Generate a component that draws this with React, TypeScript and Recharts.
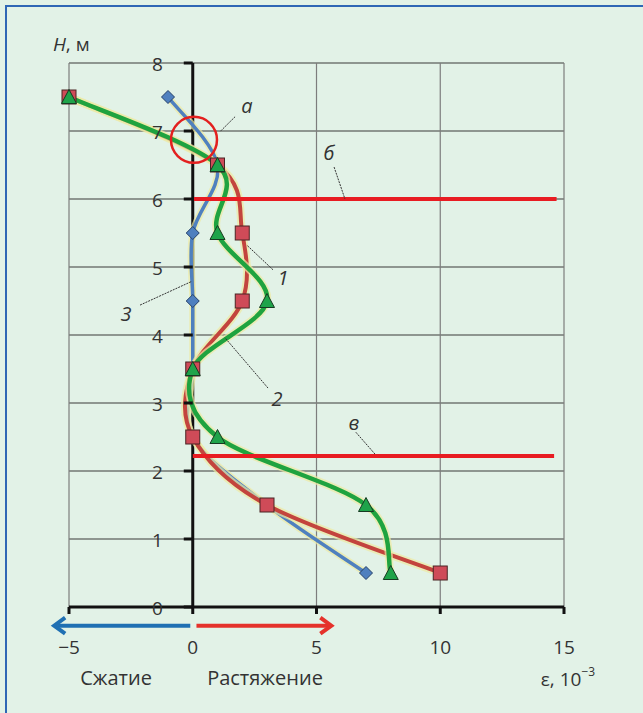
import React from 'react';
import {
  ComposedChart,
  Line,
  XAxis,
  YAxis,
  CartesianGrid,
  ReferenceLine,
  ReferenceDot,
} from 'recharts';

// ---- data ----
const depthH = [7.5, 6.5, 5.5, 4.5, 3.5, 2.5, 1.5, 0.5];
const strain1 = [-5, 1, 2, 2, 0, 0, 3, 10]; // curve 1 (squares)
const strain2 = [-5, 1, 1, 3, 0, 1, 7, 8]; // curve 2 (triangles)
const strain3 = [-1, 1, 0, 0, 0, 0, 3, 7]; // curve 3 (diamonds)

const xTicks = [-5, 0, 5, 10, 15];
const yTicks = [0, 1, 2, 3, 4, 5, 6, 7, 8];
const xGrid = [-5, 5, 10, 15];

// horizontal red lines (б, в)
const redLevels = [
  { h: 6, from: 0.05, to: 14.7 },
  { h: 2.22, from: 0, to: 14.6 },
];

// circle "а"
const circleA = { x: 0.05, y: 6.87 };

// annotation letters and their leader lines
const noteLabels = [
  { t: 'а', x: 2.19, y: 7.38 },
  { t: 'б', x: 5.5, y: 6.68 },
  { t: 'в', x: 6.51, y: 2.71 },
  { t: '1', x: 3.65, y: 4.84 },
  { t: '2', x: 3.4, y: 3.07 },
  { t: '3', x: -2.7, y: 4.32 },
];
const noteLeaders = [
  { x1: 1.71, y1: 7.21, x2: 1.1, y2: 6.99 },
  { x1: 5.71, y1: 6.47, x2: 6.15, y2: 6.0 },
  { x1: 6.59, y1: 2.57, x2: 7.36, y2: 2.25 },
  { x1: 3.24, y1: 4.96, x2: 2.19, y2: 5.32 },
  { x1: 3.04, y1: 3.22, x2: 1.3, y2: 3.96 },
  { x1: -2.13, y1: 4.44, x2: -0.03, y2: 4.79 },
];

// direction arrows under the axis
const arrowLevel = -0.275;
const compressionArrow = { from: -0.1, to: -5.6 };
const tensionArrow = { from: 0.15, to: 5.6 };

// captions under the axis
const captions = [
  { t: 'Сжатие', x: -3.1, y: -1.03 },
  { t: 'Растяжение', x: 2.92, y: -1.03 },
];
const unitCaption = { x: 15.16, y: -1.06 };
const yTitle = { x: -5.65, y: 8.28 };

const rows = depthH.map((h, i) => ({
  H: h,
  s1: strain1[i],
  s2: strain2[i],
  s3: strain3[i],
}));

// ---- styles ----
const FONT = "'Open Sans', 'Noto Sans', sans-serif";
const TXT = '#333333';
const RED_LINE = '#c3443d';
const GREEN_LINE = '#1fa33f';
const BLUE_LINE = '#4f80bf';
const GLOW = '#eeeaa2';

// Catmull-Rom like smoothing (Excel style)
const smoothCurve: any = (context: any) => {
  let pts: number[][] = [];
  return {
    areaStart() {},
    areaEnd() {},
    lineStart() {
      pts = [];
    },
    point(x: number, y: number) {
      pts.push([+x, +y]);
    },
    lineEnd() {
      const n = pts.length;
      if (!n) return;
      context.moveTo(pts[0][0], pts[0][1]);
      if (n === 1) return;
      for (let i = 0; i < n - 1; i++) {
        const p0 = pts[Math.max(i - 1, 0)];
        const p1 = pts[i];
        const p2 = pts[i + 1];
        const p3 = pts[Math.min(i + 2, n - 1)];
        context.bezierCurveTo(
          p1[0] + (p2[0] - p0[0]) / 6,
          p1[1] + (p2[1] - p0[1]) / 6,
          p2[0] - (p3[0] - p1[0]) / 6,
          p2[1] - (p3[1] - p1[1]) / 6,
          p2[0],
          p2[1]
        );
      }
    },
  };
};

const squareDot = (p: any) => {
  if (p.cx == null || p.cy == null) return <g key={`sq-${p.index}`} />;
  const s = 14;
  return (
    <rect
      key={`sq-${p.index}`}
      x={p.cx - s / 2}
      y={p.cy - s / 2}
      width={s}
      height={s}
      fill="#cf4b58"
      stroke="#4a2424"
      strokeWidth={1}
    />
  );
};

const triangleDot = (p: any) => {
  if (p.cx == null || p.cy == null) return <g key={`tr-${p.index}`} />;
  const w = 15;
  const h = 13;
  return (
    <polygon
      key={`tr-${p.index}`}
      points={`${p.cx},${p.cy - h / 2 - 1} ${p.cx + w / 2},${p.cy + h / 2} ${p.cx - w / 2},${p.cy + h / 2}`}
      fill="#1fa34a"
      stroke="#173a22"
      strokeWidth={1}
    />
  );
};

const diamondDot = (p: any) => {
  if (p.cx == null || p.cy == null) return <g key={`dm-${p.index}`} />;
  const r = 6.5;
  return (
    <polygon
      key={`dm-${p.index}`}
      points={`${p.cx},${p.cy - r} ${p.cx + r},${p.cy} ${p.cx},${p.cy + r} ${p.cx - r},${p.cy}`}
      fill="#4f80bf"
      stroke="#25406a"
      strokeWidth={1}
    />
  );
};

const arrowShape = (color: string) => (p: any) => {
  const dir = Math.sign(p.x2 - p.x1) || 1;
  const tip = p.x2;
  const y = p.y2;
  return (
    <g>
      <line x1={p.x1} y1={p.y1} x2={tip - dir * 3} y2={y} stroke={color} strokeWidth={4} />
      <polyline
        points={`${tip - dir * 11},${y - 8} ${tip},${y} ${tip - dir * 11},${y + 8}`}
        fill="none"
        stroke={color}
        strokeWidth={4}
        strokeLinejoin="miter"
      />
    </g>
  );
};

const yTickShape = (t: number) => (p: any) => (
  <g>
    <line x1={p.cx - 9} y1={p.cy} x2={p.cx} y2={p.cy} stroke="#111" strokeWidth={3} />
    <text
      x={p.cx - 30}
      y={p.cy + 1}
      textAnchor="end"
      dominantBaseline="central"
      fontSize={19}
      fontFamily={FONT}
      fill={TXT}
    >
      {t}
    </text>
  </g>
);

const textShape = (t: string, opts: any) => (p: any) => (
  <text
    x={p.cx}
    y={p.cy}
    textAnchor={opts.anchor || 'middle'}
    dominantBaseline="central"
    fontSize={opts.size || 18}
    fontStyle={opts.italic ? 'italic' : 'normal'}
    fontFamily={FONT}
    fill={TXT}
  >
    {t}
  </text>
);

const unitShape = (p: any) => (
  <text
    x={p.cx}
    y={p.cy}
    textAnchor="middle"
    dominantBaseline="central"
    fontSize={19}
    fontFamily={FONT}
    fill={TXT}
  >
    ε, 10
    <tspan fontSize={12} dy={-8}>
      −3
    </tspan>
  </text>
);

const yTitleShape = (p: any) => (
  <text x={p.cx} y={p.cy} dominantBaseline="central" fontSize={19} fontFamily={FONT} fill={TXT}>
    <tspan fontStyle="italic">H</tspan>, м
  </text>
);

const fmtX = (v: number) => (v < 0 ? `−${-v}` : `${v}`);

export default function App() {
  return (
    <div
      style={{
        position: 'absolute',
        left: 0,
        top: 0,
        width: 643,
        height: 713,
        background: '#e2f2e7',
        overflow: 'hidden',
      }}
    >
      <div
        style={{
          position: 'absolute',
          left: 5,
          top: 5,
          width: 700,
          height: 800,
          borderLeft: '2px solid #2f67b5',
          borderTop: '2px solid #2f67b5',
        }}
      />
      <div style={{ position: 'absolute', left: 0, top: 0 }}>
        <ComposedChart
          width={643}
          height={713}
          layout="vertical"
          data={rows}
          margin={{ top: 63, right: 79, bottom: 46, left: 69 }}
        >
          <CartesianGrid
            vertical={false}
            horizontalValues={yTicks}
            stroke="#3a3a3a"
            strokeWidth={1.2}
          />
          <CartesianGrid
            horizontal={false}
            verticalValues={xGrid}
            stroke="#7d7d7d"
            strokeWidth={1.2}
          />
          <CartesianGrid horizontal={false} verticalValues={[0]} stroke="#111" strokeWidth={3} />
          <XAxis
            type="number"
            domain={[-5, 15]}
            ticks={xTicks}
            height={60}
            tickSize={7}
            tickMargin={27}
            tickFormatter={fmtX}
            axisLine={{ stroke: '#111', strokeWidth: 3 }}
            tickLine={{ stroke: '#111', strokeWidth: 3 }}
            tick={{ fill: TXT, fontSize: 19, fontFamily: FONT }}
          />
          <YAxis
            type="number"
            dataKey="H"
            domain={[0, 8]}
            ticks={yTicks}
            reversed
            hide
          />

          <Line dataKey="s3" type={smoothCurve} stroke={GLOW} strokeWidth={7} strokeOpacity={0.7} dot={false} activeDot={false} isAnimationActive={false} legendType="none" />
          <Line dataKey="s3" type={smoothCurve} stroke={BLUE_LINE} strokeWidth={3.5} dot={diamondDot} activeDot={false} isAnimationActive={false} />
          <Line dataKey="s1" type={smoothCurve} stroke={GLOW} strokeWidth={8} strokeOpacity={0.7} dot={false} activeDot={false} isAnimationActive={false} legendType="none" />
          <Line dataKey="s1" type={smoothCurve} stroke={RED_LINE} strokeWidth={4} dot={squareDot} activeDot={false} isAnimationActive={false} />
          <Line dataKey="s2" type={smoothCurve} stroke={GLOW} strokeWidth={8} strokeOpacity={0.7} dot={false} activeDot={false} isAnimationActive={false} legendType="none" />
          <Line dataKey="s2" type={smoothCurve} stroke={GREEN_LINE} strokeWidth={4.5} dot={triangleDot} activeDot={false} isAnimationActive={false} />

          {redLevels.map((r, i) => (
            <ReferenceLine
              key={`red-${i}`}
              segment={[
                { x: r.from, y: r.h },
                { x: r.to, y: r.h },
              ]}
              stroke="#e81c22"
              strokeWidth={4}
              ifOverflow="visible"
            />
          ))}

          <ReferenceDot
            x={circleA.x}
            y={circleA.y}
            r={23}
            fill="none"
            stroke="#e3201f"
            strokeWidth={2.5}
            ifOverflow="visible"
          />

          {noteLeaders.map((l, i) => (
            <ReferenceLine
              key={`lead-${i}`}
              segment={[
                { x: l.x1, y: l.y1 },
                { x: l.x2, y: l.y2 },
              ]}
              stroke="#333"
              strokeWidth={1}
              strokeDasharray="2 1"
              ifOverflow="visible"
            />
          ))}

          {noteLabels.map((n, i) => (
            <ReferenceDot
              key={`note-${i}`}
              x={n.x}
              y={n.y}
              r={0}
              ifOverflow="visible"
              shape={textShape(n.t, { italic: true, size: 20 })}
            />
          ))}

          {yTicks.map((t) => (
            <ReferenceDot key={`yt-${t}`} x={0} y={t} r={0} ifOverflow="visible" shape={yTickShape(t)} />
          ))}

          <ReferenceLine
            segment={[
              { x: compressionArrow.from, y: arrowLevel },
              { x: compressionArrow.to, y: arrowLevel },
            ]}
            ifOverflow="visible"
            shape={arrowShape('#1f70b3')}
          />
          <ReferenceLine
            segment={[
              { x: tensionArrow.from, y: arrowLevel },
              { x: tensionArrow.to, y: arrowLevel },
            ]}
            ifOverflow="visible"
            shape={arrowShape('#e5322b')}
          />

          {captions.map((c, i) => (
            <ReferenceDot key={`cap-${i}`} x={c.x} y={c.y} r={0} ifOverflow="visible" shape={textShape(c.t, { size: 20 })} />
          ))}
          <ReferenceDot x={unitCaption.x} y={unitCaption.y} r={0} ifOverflow="visible" shape={unitShape} />
          <ReferenceDot x={yTitle.x} y={yTitle.y} r={0} ifOverflow="visible" shape={yTitleShape} />
        </ComposedChart>
      </div>
    </div>
  );
}
